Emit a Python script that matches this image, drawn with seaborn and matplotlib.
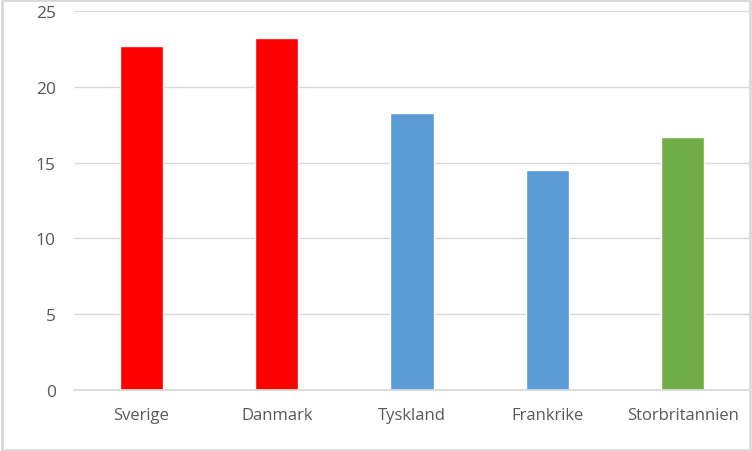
import matplotlib
matplotlib.use("Agg")
import matplotlib.pyplot as plt
import seaborn as sns
import pandas as pd
from matplotlib.patches import Rectangle

# Data
countries = ['Sverige', 'Danmark', 'Tyskland', 'Frankrike', 'Storbritannien']
values = [22.7, 23.25, 18.3, 14.55, 16.7]
bar_colors = ['#FF0000', '#FF0000', '#5B9BD5', '#5B9BD5', '#70AD47']
y_ticks = [0, 5, 10, 15, 20, 25]

sns.set_theme(style='white')
plt.rcParams['font.family'] = ['Open Sans', 'DejaVu Sans']

df = pd.DataFrame({'Land': countries, 'Värde': values})

fig = plt.figure(figsize=(7.52, 4.52), dpi=100)
ax = fig.add_axes([0.098, 0.135, 0.9, 0.838])

sns.barplot(data=df, x='Land', y='Värde', hue='Land', palette=bar_colors,
            width=0.32, saturation=1, legend=False, ax=ax)

ax.set_ylim(0, 25)
ax.set_yticks(y_ticks)
ax.set_xlim(-0.5, len(countries) - 0.5)
ax.yaxis.grid(True, color='#D9D9D9', linewidth=1)
ax.set_axisbelow(True)
for side in ['top', 'right', 'left']:
    ax.spines[side].set_visible(False)
ax.spines['bottom'].set_color('#D9D9D9')
ax.set_xlabel('')
ax.set_ylabel('')
ax.tick_params(axis='y', length=0, pad=13, labelsize=12.5, labelcolor='#595959')
ax.tick_params(axis='x', length=0, pad=12, labelsize=12, labelcolor='#595959')

# grey chart border
fig.patches.append(Rectangle((0.002, 0.003), 0.996, 0.994, transform=fig.transFigure,
                             fill=False, edgecolor='#D9D9D9', linewidth=2))

fig.savefig('out.png', dpi=100)
